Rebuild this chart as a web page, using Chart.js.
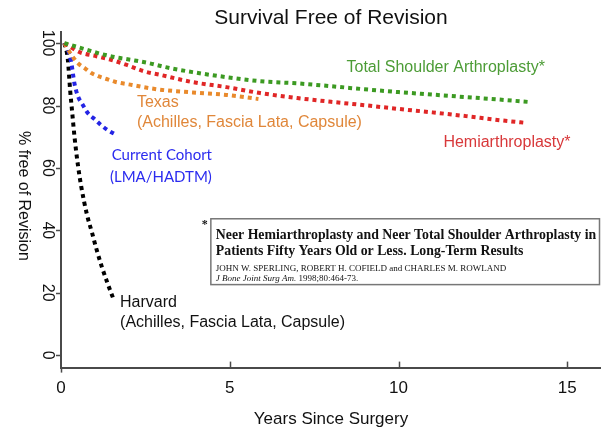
<!DOCTYPE html>
<html>
<head>
<meta charset="utf-8">
<title>Survival Free of Revision</title>
<script src="https://cdn.jsdelivr.net/npm/chart.js@4.4.0/dist/chart.umd.min.js"></script>
<style>
  html, body { margin: 0; padding: 0; background: #fff; }
  canvas { display: block; }
</style>
</head>
<body>
<canvas id="survivalChart" width="601" height="431"></canvas>
<script>
// values: years since surgery -> % free of revision
const tsaYears = [0.1, 0.6, 1.1, 1.6, 2.1, 2.6, 3.1, 3.9, 4.9, 5.9, 7, 8, 9, 10, 11, 12, 13, 13.9];
const tsaValues = [100, 98.4, 96.8, 95.5, 94.6, 93.6, 92.3, 90.7, 89.1, 87.8, 87.1, 86.2, 85.2, 84.3, 83.5, 82.7, 81.9, 81.1];

const hemiYears = [0.1, 0.55, 1.05, 1.5, 1.95, 2.45, 2.95, 3.9, 4.9, 5.9, 7, 8, 9, 10, 11, 12, 13, 13.8];
const hemiValues = [100, 97.1, 95.8, 94.6, 93, 91, 89.8, 87.5, 85.9, 84, 82.4, 81.2, 80.1, 78.9, 77.8, 76.6, 75.3, 74.4];

const texasYears = [0.1, 0.3, 0.5, 0.7, 0.9, 1.1, 1.35, 1.6, 2.1, 2.6, 3, 3.9, 4.9, 5.85];
const texasValues = [100, 96.4, 93.6, 92, 90.4, 89.4, 88.5, 87.6, 86.6, 85.6, 85, 84.2, 83.4, 82.1];

const cohortYears = [0.1, 0.2, 0.3, 0.4, 0.5, 0.63, 0.8, 1.0, 1.2, 1.4, 1.6];
const cohortValues = [100, 98, 94, 87, 83, 80.5, 77.5, 75.6, 73.6, 72, 70.8];

const harvardYears = [0.1, 0.2, 0.27, 0.33, 0.4, 0.5, 0.6, 0.77, 0.92, 1.05, 1.21, 1.38, 1.54];
const harvardValues = [100, 95, 85, 78, 70, 61, 54, 45, 39.2, 34, 28.3, 23, 18.4];

const xTickValues = [0, 5, 10, 15];
const yTickValues = [0, 20, 40, 60, 80, 100];

const axisColor = '#4a4a4a';
const textColor = '#111';
const sans = '"Liberation Sans", Arial, sans-serif';
const serif = '"Liberation Serif", "Times New Roman", serif';

function toPoints(xs, ys) {
  return xs.map((x, i) => ({ x: x, y: ys[i] }));
}

function dotted(label, xs, ys, color) {
  return {
    label: label,
    data: toPoints(xs, ys),
    borderColor: color,
    backgroundColor: color,
    borderWidth: 4,
    borderDash: [4, 4],
    borderCapStyle: 'butt',
    pointRadius: 0,
    fill: false,
    cubicInterpolationMode: 'monotone'
  };
}

// rotated y labels, inward x ticks
const axisDecor = {
  id: 'axisDecor',
  afterDraw(chart) {
    const { ctx, chartArea, scales: { x, y } } = chart;
    ctx.save();
    ctx.strokeStyle = axisColor;
    ctx.lineWidth = 1.5;
    yTickValues.forEach(v => {
      const py = Math.round(y.getPixelForValue(v)) + 0.5;
      ctx.beginPath();
      ctx.moveTo(chartArea.left - 5, py);
      ctx.lineTo(chartArea.left, py);
      ctx.stroke();
    });
    xTickValues.forEach(v => {
      const px = Math.round(x.getPixelForValue(v)) + 0.5;
      ctx.beginPath();
      if (v === 0) {
        ctx.moveTo(px, chartArea.bottom);
        ctx.lineTo(px, chartArea.bottom + 5);
      } else {
        ctx.moveTo(px, chartArea.bottom);
        ctx.lineTo(px, chartArea.bottom - 6);
      }
      ctx.stroke();
    });

    ctx.fillStyle = textColor;
    ctx.textAlign = 'center';
    ctx.textBaseline = 'middle';
    ctx.font = '16px ' + sans;
    yTickValues.forEach(v => {
      ctx.save();
      ctx.translate(chartArea.left - 14, y.getPixelForValue(v));
      ctx.rotate(Math.PI / 2);
      ctx.fillText(String(v), 0, 0);
      ctx.restore();
    });

    ctx.save();
    ctx.translate(chartArea.left - 38, y.getPixelForValue(51));
    ctx.rotate(Math.PI / 2);
    ctx.font = '16px ' + sans;
    ctx.fillText('% free of Revision', 0, 0);
    ctx.restore();
    ctx.restore();
  }
};

// series names and the reference box
const notes = {
  id: 'notes',
  afterDraw(chart) {
    const { ctx, scales: { x, y } } = chart;
    const put = (text, xv, yv, color, font) => {
      ctx.fillStyle = color;
      ctx.font = font;
      ctx.fillText(text, x.getPixelForValue(xv), y.getPixelForValue(yv));
    };
    ctx.save();
    ctx.textAlign = 'left';
    ctx.textBaseline = 'middle';
    const f16 = '16px ' + sans;
    const lato = '15px Lato, sans-serif';
    put('Total Shoulder Arthroplasty*', 8.46, 92.3, '#4c9c36', f16);
    put('Texas', 2.25, 80.8, '#e0873a', f16);
    put('(Achilles, Fascia Lata, Capsule)', 2.25, 74.4, '#e0873a', f16);
    put('Hemiarthroplasty*', 11.33, 68, '#d8383a', f16);
    put('Current Cohort', 1.5, 64.2, '#2b2bef', lato);
    put('(LMA/HADTM)', 1.45, 57.1, '#2b2bef', lato);
    put('Harvard', 1.75, 16.8, textColor, f16);
    put('(Achilles, Fascia Lata, Capsule)', 1.75, 10.4, textColor, f16);

    // citation box
    const bx = x.getPixelForValue(4.44);
    const by = y.getPixelForValue(43.7);
    const bw = chart.width - 1.5 - bx;
    const bh = y.getPixelForValue(22.6) - by;
    ctx.strokeStyle = '#777';
    ctx.lineWidth = 1.5;
    ctx.strokeRect(bx, by, bw, bh);
    ctx.fillStyle = textColor;
    ctx.font = 'bold 12px ' + serif;
    ctx.fillText('*', bx - 9, by + 6);
    ctx.textBaseline = 'alphabetic';
    ctx.font = 'bold 13.8px ' + serif;
    ctx.fillText('Neer Hemiarthroplasty and Neer Total Shoulder Arthroplasty in', bx + 5, by + 20);
    ctx.fillText('Patients Fifty Years Old or Less. Long-Term Results', bx + 5, by + 36);
    ctx.font = '9px ' + serif;
    ctx.fillText('JOHN W. SPERLING, ROBERT H. COFIELD and CHARLES M. ROWLAND', bx + 5, by + 52);
    ctx.font = 'italic 9px ' + serif;
    const cite = 'J Bone Joint Surg Am.';
    ctx.fillText(cite, bx + 5, by + 62);
    const w = ctx.measureText(cite + ' ').width;
    ctx.font = '9px ' + serif;
    ctx.fillText('1998;80:464-73.', bx + 5 + w, by + 62);
    ctx.restore();
  }
};

new Chart(document.getElementById('survivalChart'), {
  type: 'line',
  data: {
    datasets: [
      dotted('Total Shoulder Arthroplasty', tsaYears, tsaValues, '#3c9a22'),
      dotted('Hemiarthroplasty', hemiYears, hemiValues, '#e02626'),
      dotted('Texas', texasYears, texasValues, '#e98a2c'),
      dotted('Current Cohort', cohortYears, cohortValues, '#2424e4'),
      dotted('Harvard', harvardYears, harvardValues, '#000')
    ]
  },
  options: {
    responsive: false,
    animation: false,
    layout: { padding: { left: 61, right: 0, top: 0, bottom: 0 } },
    plugins: {
      legend: { display: false },
      tooltip: { enabled: false },
      title: {
        display: true,
        text: 'Survival Free of Revision',
        color: textColor,
        fullSize: false,
        font: { family: sans, size: 21, weight: 'normal' },
        padding: { top: 6, bottom: 1 }
      }
    },
    scales: {
      x: {
        type: 'linear',
        min: 0,
        max: 16,
        grid: { display: false, drawTicks: false },
        border: { display: true, color: axisColor, width: 2 },
        afterBuildTicks(scale) {
          scale.ticks = xTickValues.map(v => ({ value: v }));
        },
        ticks: { color: textColor, padding: 12.5, font: { family: sans, size: 17, lineHeight: 1 } },
        title: {
          display: true,
          text: 'Years Since Surgery',
          color: textColor,
          font: { family: sans, size: 17 },
          padding: { top: 0, bottom: 1 }
        }
      },
      y: {
        min: -4,
        max: 103.5,
        grid: { display: false, drawTicks: false },
        border: { display: true, color: axisColor, width: 2 },
        ticks: { display: false }
      }
    }
  },
  plugins: [axisDecor, notes]
});
</script>
</body>
</html>
